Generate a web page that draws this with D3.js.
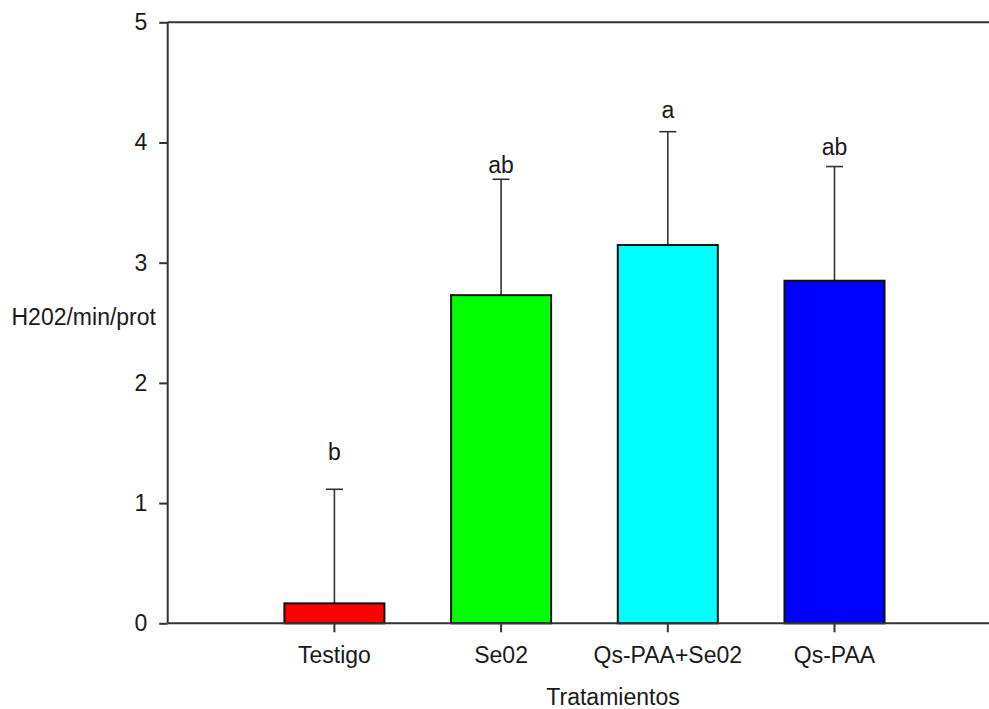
<!DOCTYPE html>
<html>
<head>
<meta charset="utf-8">
<script src="https://cdn.jsdelivr.net/npm/d3@7"></script>
<style>
  html, body { margin: 0; padding: 0; background: #ffffff; }
  svg { display: block; }
  text { font-family: "Liberation Sans", Arial, sans-serif; fill: #1a1a1a; }
</style>
</head>
<body>
<svg id="chart" width="989" height="709"></svg>
<script>
// Treatments and measured activity
const categories = ["Testigo", "Se02", "Qs-PAA+Se02", "Qs-PAA"];
const means = [0.166, 2.73, 3.147, 2.85];
const errorTops = [1.115, 3.694, 4.09, 3.80];
const letters = ["b", "ab", "a", "ab"];
const letterLevels = [1.36, 3.75, 4.20, 3.90];
const barColors = ["#ff0000", "#00ff00", "#00ffff", "#0000ff"];
const yTicks = [0, 1, 2, 3, 4, 5];
const yTitle = "H202/min/prot";
const xTitle = "Tratamientos";

const plotLeft = 167.7, plotTop = 22.3, plotBottom = 623.3, plotRight = 989;
const step = 166.7;
const axisColor = "#333333";

const svg = d3.select("#chart");

const y = d3.scaleLinear().domain([0, 5]).range([plotBottom, plotTop]);
const x = d3.scaleBand()
  .domain(categories)
  .range([plotLeft + step / 2, plotLeft + step / 2 + 4 * step])
  .paddingInner(0.4)
  .paddingOuter(0.2);

// Error bars (upper only), drawn behind the bars
const eb = svg.append("g").attr("stroke", axisColor).attr("stroke-width", 1.6);
categories.forEach((c, i) => {
  const cx = x(c) + x.bandwidth() / 2;
  eb.append("line")
    .attr("x1", cx).attr("x2", cx)
    .attr("y1", y(means[i])).attr("y2", y(errorTops[i]));
  eb.append("line")
    .attr("x1", cx - 8.5).attr("x2", cx + 8.5)
    .attr("y1", y(errorTops[i])).attr("y2", y(errorTops[i]));
});

// Bars
svg.append("g").selectAll("rect")
  .data(categories)
  .join("rect")
  .attr("x", d => x(d))
  .attr("width", x.bandwidth())
  .attr("y", (d, i) => y(means[i]))
  .attr("height", (d, i) => y(0) - y(means[i]))
  .attr("fill", (d, i) => barColors[i])
  .attr("stroke", "#111111")
  .attr("stroke-width", 2);

// Significance letters
svg.append("g").selectAll("text")
  .data(categories)
  .join("text")
  .attr("x", d => x(d) + x.bandwidth() / 2)
  .attr("y", (d, i) => y(letterLevels[i]))
  .attr("text-anchor", "middle")
  .attr("font-size", 23)
  .text((d, i) => letters[i]);

// Left axis
const yAxis = svg.append("g")
  .attr("transform", `translate(${plotLeft},0)`)
  .call(d3.axisLeft(y).tickValues(yTicks).tickFormat(d3.format("d")).tickSize(8.5).tickPadding(12));
yAxis.select(".domain").attr("stroke", axisColor).attr("stroke-width", 2)
  .attr("d", `M0,${plotTop}V${plotBottom}`);
yAxis.selectAll(".tick line").attr("stroke", axisColor).attr("stroke-width", 2);
yAxis.selectAll(".tick text")
  .attr("font-size", 23)
  .attr("font-family", "Liberation Sans, Arial, sans-serif")
  .attr("fill", "#1a1a1a");

// Bottom axis
const xAxis = svg.append("g")
  .attr("transform", `translate(0,${plotBottom})`)
  .call(d3.axisBottom(x).tickSize(9).tickPadding(14));
xAxis.select(".domain").attr("stroke", axisColor).attr("stroke-width", 2)
  .attr("d", `M${plotLeft},0H${plotRight}`);
xAxis.selectAll(".tick line").attr("stroke", axisColor).attr("stroke-width", 2);
xAxis.selectAll(".tick text")
  .attr("font-size", 23)
  .attr("font-family", "Liberation Sans, Arial, sans-serif")
  .attr("fill", "#1a1a1a");

// Top frame line
svg.append("line")
  .attr("x1", plotLeft).attr("x2", plotRight)
  .attr("y1", y(5)).attr("y2", y(5))
  .attr("stroke", axisColor).attr("stroke-width", 2);

// Axis titles
svg.append("text")
  .attr("x", 11.5).attr("y", 325)
  .attr("font-size", 23)
  .text(yTitle);

svg.append("text")
  .attr("x", 613).attr("y", 705)
  .attr("text-anchor", "middle")
  .attr("font-size", 23)
  .text(xTitle);
</script>
</body>
</html>
